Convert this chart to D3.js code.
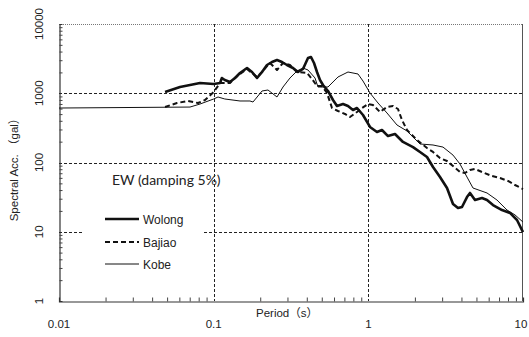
<!DOCTYPE html>
<html>
<head>
<meta charset="utf-8">
<script src="https://cdn.jsdelivr.net/npm/d3@7"></script>
<style>
  html, body { margin: 0; padding: 0; background: #fff; }
  svg { display: block; }
  text { fill: #222; }
</style>
</head>
<body>
<svg id="chart" width="529" height="337"></svg>
<script>
// Response spectra, EW component, 5% damping
const wolongPeriod = [0.0485, 0.0606, 0.0816, 0.1, 0.110, 0.113, 0.118, 0.1275, 0.1374, 0.148, 0.1643, 0.1769, 0.1907, 0.2054, 0.2212, 0.2383, 0.2567, 0.2765, 0.2979, 0.3257, 0.3509, 0.378, 0.4073, 0.4259, 0.4454, 0.4657, 0.487, 0.5092, 0.5485, 0.5909, 0.6271, 0.6859, 0.7387, 0.7959, 0.8447, 0.9236, 1.025, 1.137, 1.225, 1.34, 1.487, 1.675, 1.945, 2.158, 2.395, 2.619, 2.906, 3.226, 3.527, 3.8, 4.033, 4.344, 4.543, 4.894, 5.431, 5.852, 6.397, 7.314, 8.24, 9.144, 10];
const wolongAcc = [1042, 1231, 1406, 1360, 1406, 1661, 1554, 1454, 1661, 1961, 2315, 2027, 1661, 2027, 2558, 2827, 3021, 2827, 2558, 2315, 2027, 2240, 3228, 3338, 2734, 2027, 1554, 1316, 1078, 799, 655, 699, 655, 573, 612, 485, 326, 276, 295, 241, 258, 198, 167, 142, 120, 86, 61.7, 42.8, 25.2, 22, 22.8, 31.7, 36.3, 28.7, 30.7, 28.7, 24.3, 20.6, 18.7, 14.8, 9.9];

const bajiaoPeriod = [0.0485, 0.0579, 0.0682, 0.0792, 0.0879, 0.1, 0.110, 0.1275, 0.1374, 0.148, 0.1643, 0.1769, 0.1907, 0.2054, 0.2212, 0.2313, 0.2567, 0.2807, 0.3115, 0.3457, 0.4013, 0.4324, 0.4657, 0.5017, 0.5404, 0.5823, 0.6366, 0.7066, 0.761, 0.8447, 0.91, 0.995, 1.072, 1.19, 1.32, 1.444, 1.555, 1.65, 1.778, 2.064, 2.395, 2.619, 2.906, 3.226, 3.914, 4.216, 4.543, 4.894, 5.431, 6.3, 7.1, 8.0, 8.877, 10];
const bajiaoAcc = [633, 723, 773, 723, 799, 1042, 1406, 1406, 1661, 1897, 2240, 1961, 1717, 2027, 2475, 2734, 2166, 2734, 2558, 2027, 1961, 1606, 1273, 1273, 1008, 612, 554, 502, 454, 536, 612, 699, 677, 536, 633, 655, 592, 411, 295, 211, 162, 142, 116, 105, 72.9, 70.5, 78, 80.6, 72.9, 63.9, 59.7, 54.1, 47.3, 41.4];

const kobePeriod = [0.01, 0.0703, 0.0816, 0.1, 0.1067, 0.118, 0.148, 0.1717, 0.1796, 0.2054, 0.2245, 0.2567, 0.2807, 0.3115, 0.3457, 0.378, 0.4073, 0.4521, 0.4725, 0.5485, 0.5909, 0.6366, 0.7387, 0.8575, 0.9236, 1.025, 1.155, 1.32, 1.532, 1.778, 2.158, 2.619, 3.039, 3.527, 3.914, 4.344, 4.751, 5.852, 6.79, 7.88, 8.877, 10];
const kobeAcc = [612, 632, 699, 826, 883, 826, 773, 773, 747, 1078, 1114, 883, 1231, 1661, 2096, 2315, 2166, 1661, 1231, 1231, 1454, 1717, 2027, 1897, 1502, 1008, 723, 519, 348, 285, 185, 179, 167, 128, 95, 61.7, 42.8, 36.3, 28.7, 20.6, 17.5, 13.8];

const xTickValues = [0.01, 0.1, 1, 10];
const xTickLabels = ["0.01", "0.1", "1", "10"];
const yTickValues = [1, 10, 100, 1000, 10000];
const yTickLabels = ["1", "10", "100", "1000", "10000"];
const xGridValues = [0.1, 1];
const yGridValues = [10, 100, 1000];

const seriesNames = ["Wolong", "Bajiao", "Kobe"];

const svg = d3.select("#chart");
const plotLeft = 59, plotRight = 523, plotTop = 24, plotBottom = 301;

const x = d3.scaleLog().domain([0.01, 10]).range([plotLeft, plotRight]);
const y = d3.scaleLog().domain([1, 10000]).range([plotBottom, plotTop]);

const font = "'Liberation Sans', Arial, 'Noto Sans CJK JP', sans-serif";

// minor log ticks
const minorX = [];
const minorY = [];
for (let d = 0.01; d < 10; d *= 10) for (let k = 2; k <= 9; k++) minorX.push(+(d * k).toPrecision(3));
for (let d = 1; d < 10000; d *= 10) for (let k = 2; k <= 9; k++) minorY.push(d * k);

// grid lines
const grid = svg.append("g").attr("stroke", "#222").attr("stroke-width", 1).attr("stroke-dasharray", "3,2");
grid.selectAll("line.gx").data(xGridValues).join("line")
  .attr("x1", d => Math.round(x(d)) + 0.5).attr("x2", d => Math.round(x(d)) + 0.5)
  .attr("y1", plotTop).attr("y2", plotBottom);
grid.selectAll("line.gy").data(yGridValues).join("line")
  .attr("y1", d => Math.round(y(d)) + 0.5).attr("y2", d => Math.round(y(d)) + 0.5)
  .attr("x1", plotLeft).attr("x2", plotRight);

// frame
svg.append("line").attr("x1", plotLeft).attr("x2", plotRight).attr("y1", plotTop + 0.5).attr("y2", plotTop + 0.5)
  .attr("stroke", "#777").attr("stroke-width", 1).attr("stroke-dasharray", "1,1");
svg.append("line").attr("x1", plotRight - 0.5).attr("x2", plotRight - 0.5).attr("y1", plotTop).attr("y2", plotBottom)
  .attr("stroke", "#555").attr("stroke-width", 1);

// axes with inward minor ticks
const xAxis = d3.axisTop(x).tickValues(minorX).tickSize(4).tickFormat("");
const yAxis = d3.axisRight(y).tickValues(minorY).tickSize(3).tickFormat("");
const gx = svg.append("g").attr("transform", `translate(0,${plotBottom + 0.5})`).call(xAxis);
const gy = svg.append("g").attr("transform", `translate(${plotLeft + 0.5},0)`).call(yAxis);
[gx, gy].forEach(g => {
  g.select(".domain").attr("stroke", "#333").attr("stroke-width", 1.2);
  g.selectAll(".tick line").attr("stroke", "#444");
});

// tick labels
svg.append("g").selectAll("text").data(xTickValues).join("text")
  .attr("x", d => d === 10 ? x(d) - 2 : x(d))
  .attr("y", 328)
  .attr("text-anchor", "middle")
  .attr("font-family", font).attr("font-size", 11.5)
  .text((d, i) => xTickLabels[i]);

svg.append("g").selectAll("text").data(yTickValues).join("text")
  .attr("transform", d => `translate(43,${y(d)}) rotate(-90)`)
  .attr("text-anchor", "middle")
  .attr("font-family", font).attr("font-size", 11.5)
  .text((d, i) => yTickLabels[i]);

// axis titles
svg.append("text").attr("x", 287).attr("y", 317).attr("text-anchor", "middle")
  .attr("font-family", font).attr("font-size", 11.5).text("Period（s）");
svg.append("text").attr("transform", "translate(18,167) rotate(-90)").attr("text-anchor", "middle")
  .attr("font-family", font).attr("font-size", 11.5).text("Spectral Acc. （gal）");

// legend backdrop
svg.append("rect").attr("x", 83).attr("y", 196).attr("width", 121).attr("height", 82).attr("fill", "#fff");

// spectra
const line = d3.line().x(d => x(d[0])).y(d => y(d[1]));
const series = [
  { name: seriesNames[0], pts: d3.zip(wolongPeriod, wolongAcc), width: 2.6, dash: null },
  { name: seriesNames[1], pts: d3.zip(bajiaoPeriod, bajiaoAcc), width: 2, dash: "5,3" },
  { name: seriesNames[2], pts: d3.zip(kobePeriod, kobeAcc), width: 1, dash: null }
];
svg.append("g").selectAll("path").data(series).join("path")
  .attr("d", d => line(d.pts))
  .attr("fill", "none").attr("stroke", "#111")
  .attr("stroke-width", d => d.width)
  .attr("stroke-dasharray", d => d.dash)
  .attr("stroke-linejoin", "round");

// annotation
svg.append("text").attr("x", 112).attr("y", 185)
  .attr("font-family", "Lato, 'Open Sans', sans-serif").attr("font-size", 14)
  .text("EW (damping 5%)");

// legend
const legendY = [219, 242, 264];
const lg = svg.append("g").selectAll("g").data(series).join("g")
  .attr("transform", (d, i) => `translate(105,${legendY[i]})`);
lg.append("line").attr("x1", 0).attr("x2", 34).attr("y1", 0).attr("y2", 0)
  .attr("stroke", "#111").attr("stroke-width", d => d.width).attr("stroke-dasharray", d => d.dash);
lg.append("text").attr("x", 38).attr("y", 4.5)
  .attr("font-family", font).attr("font-size", 12)
  .text(d => d.name);
</script>
</body>
</html>
